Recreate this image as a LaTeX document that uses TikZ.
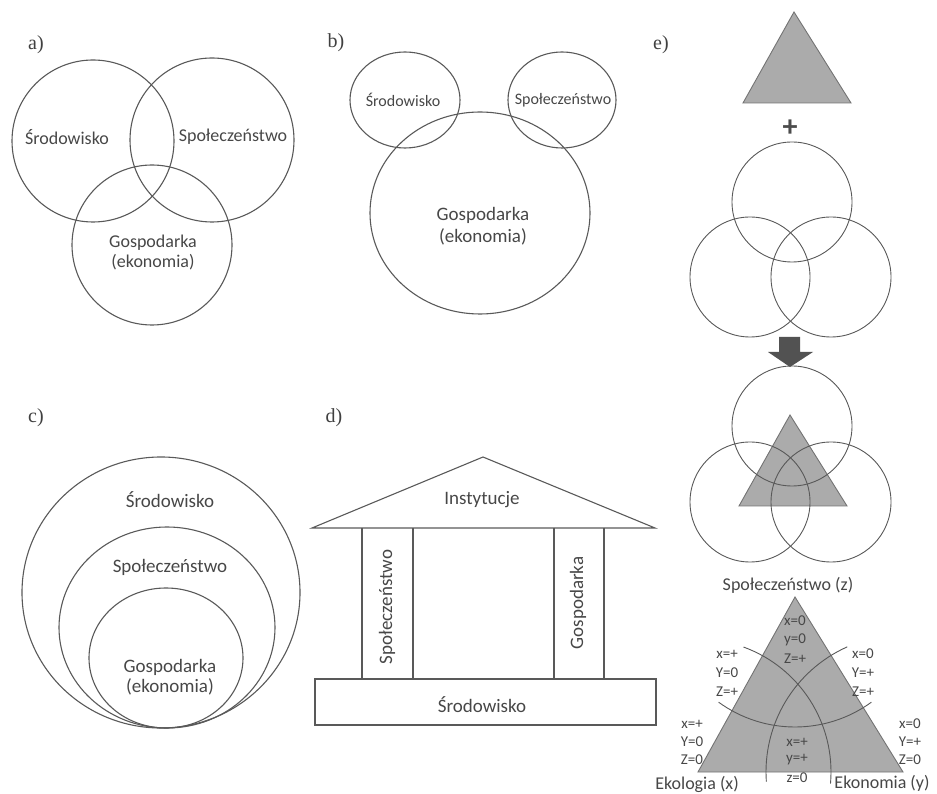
\documentclass[tikz,border=0pt]{standalone}
\usepackage{fontspec}
\setmainfont{Carlito}
\newfontfamily\tagfont{Liberation Serif}
\begin{document}
\begin{tikzpicture}[x=1pt,y=1pt,
  ln/.style={draw=black!65, line width=1.1pt},
  lbl/.style={text=black!72, font=\fontsize{18}{20}\selectfont, inner sep=0pt, align=center},
  tag/.style={text=black!75, font=\tagfont\fontsize{20}{22}\selectfont, inner sep=0pt},
  small/.style={text=black!72, font=\fontsize{15}{16}\selectfont, inner sep=0pt},
  tri/.style={fill=black!33, draw=black!55, line width=0.9pt}]
\useasboundingbox (0,0) rectangle (937,793);

% ---- a) three overlapping circles
\node[tag] (ta) at (36,748) {a)};
\draw[ln] (93,652) circle (81);
\draw[ln] (212,653) circle (82);
\draw[ln] (152,548) circle (80);
\node[lbl] (aS) at (67,656) {Środowisko};
\node[lbl] (aP) at (233,656) {Społeczeństwo};
\node[lbl] (aG) at (153,540) {Gospodarka\\(ekonomia)};

% ---- b) two small circles on a large one
\node[tag] (tb) at (336,750) {b)};
\draw[ln] (405,693) ellipse (55 and 48);
\draw[ln] (562,693) ellipse (54 and 48);
\draw[ln] (480,580) ellipse (110 and 101);
\node[lbl, font=\fontsize{16}{18}\selectfont] (bS) at (403,693) {Środowisko};
\node[lbl, font=\fontsize{16}{18}\selectfont] (bP) at (563,693) {Społeczeństwo};
\node[lbl, font=\fontsize{19}{22}\selectfont] (bG) at (483,567) {Gospodarka\\(ekonomia)};

% ---- c) nested circles touching at the bottom
\node[tag] (tc) at (36,375) {c)};
\draw[ln] (161,200.5) ellipse (139 and 135.5);
\draw[ln] (167,165.5) ellipse (108 and 100.5);
\draw[ln] (166,135) ellipse (77 and 70);
\node[lbl, font=\fontsize{19}{20}\selectfont] (cS) at (170,293) {Środowisko};
\node[lbl, font=\fontsize{19}{20}\selectfont] (cP) at (170,226) {Społeczeństwo};
\node[lbl, font=\fontsize{19}{20}\selectfont] (cG) at (170,116) {Gospodarka\\(ekonomia)};

% ---- d) temple
\node[tag] (td) at (334,375) {d)};
\draw[ln, line join=miter] (312,265) -- (483,336) -- (655,265) -- cycle;
\draw[ln] (362,265) -- (362,114);
\draw[ln, line width=1.5pt] (413,265) -- (413,114);
\draw[ln] (554,265) -- (554,114);
\draw[ln] (604,265) -- (604,114);
\draw[ln] (315,68) rectangle (656,114);
\node[lbl, font=\fontsize{19}{20}\selectfont] (dI) at (482,293) {Instytucje};
\node[lbl, font=\fontsize{19}{20}\selectfont] (dS) at (482,88) {Środowisko};
\node[lbl, font=\fontsize{19}{20}\selectfont, rotate=90] (dP) at (387,186) {Społeczeństwo};
\node[lbl, font=\fontsize{19}{20}\selectfont, rotate=90] (dG) at (578,190) {Gospodarka};

% ---- e) triangle + circles
\node[tag] (te) at (661,748) {e)};
\draw[tri] (794,781) -- (851,690) -- (743,690) -- cycle;
\node[text=black!70, font=\bfseries\fontsize{30}{30}\selectfont, inner sep=0pt] (plus) at (790,665) {+};
\draw[ln, line width=0.9pt] (792,591) circle (60);
\draw[ln, line width=0.9pt] (750,516) circle (60);
\draw[ln, line width=0.9pt] (831,516) circle (60);
\fill[black!68] (779,456) -- (800,456) -- (800,441) -- (813,441) -- (790,426)
  -- (768,441) -- (779,441) -- cycle;
\draw[tri] (790,378) -- (847,287) -- (739,287) -- cycle;
\draw[ln, line width=0.9pt] (792,367) circle (60);
\draw[ln, line width=0.9pt] (750,291) circle (60);
\draw[ln, line width=0.9pt] (831,291) circle (60);

% ---- e) ternary triangle
\coordinate (A) at (795,196);
\coordinate (L) at (698,21);
\coordinate (R) at (903,21);
\draw[tri] (A) -- (R) -- (L) -- cycle;
\draw[ln, line width=0.9pt] (L) ++(70:133) arc[start angle=70, end angle=-5, radius=133];
\draw[ln, line width=0.9pt] (R) ++(114:137) arc[start angle=114, end angle=184, radius=137];
\draw[ln, line width=0.9pt] (A) ++(234:130) arc[start angle=234, end angle=306, radius=130];
\node[lbl] (eZ) at (788,208) {Społeczeństwo (z)};
\node[lbl] (eX) at (697,9) {Ekologia (x)};
\node[lbl] (eY) at (882,10) {Ekonomia (y)};

\node[small] (c1) at (795,172) {x=0};
\node[small] (c2) at (795,153) {y=0};
\node[small] (c3) at (795,134) {Z=+};
\node[small] (l1) at (727,139) {x=+};
\node[small] (l2) at (727,120) {Y=0};
\node[small] (l3) at (727,101) {Z=+};
\node[small] (r1) at (863,139) {x=0};
\node[small] (r2) at (863,120) {Y=+};
\node[small] (r3) at (863,101) {Z=+};
\node[small] (bl1) at (692,69) {x=+};
\node[small] (bl2) at (692,51) {Y=0};
\node[small] (bl3) at (692,33) {Z=0};
\node[small] (br1) at (910,69) {x=0};
\node[small] (br2) at (910,51) {Y=+};
\node[small] (br3) at (910,33) {Z=0};
\node[small] (bc1) at (797,51) {x=+};
\node[small] (bc2) at (797,33) {y=+};
\node[small] (bc3) at (797,15) {z=0};
\end{tikzpicture}
\end{document}
